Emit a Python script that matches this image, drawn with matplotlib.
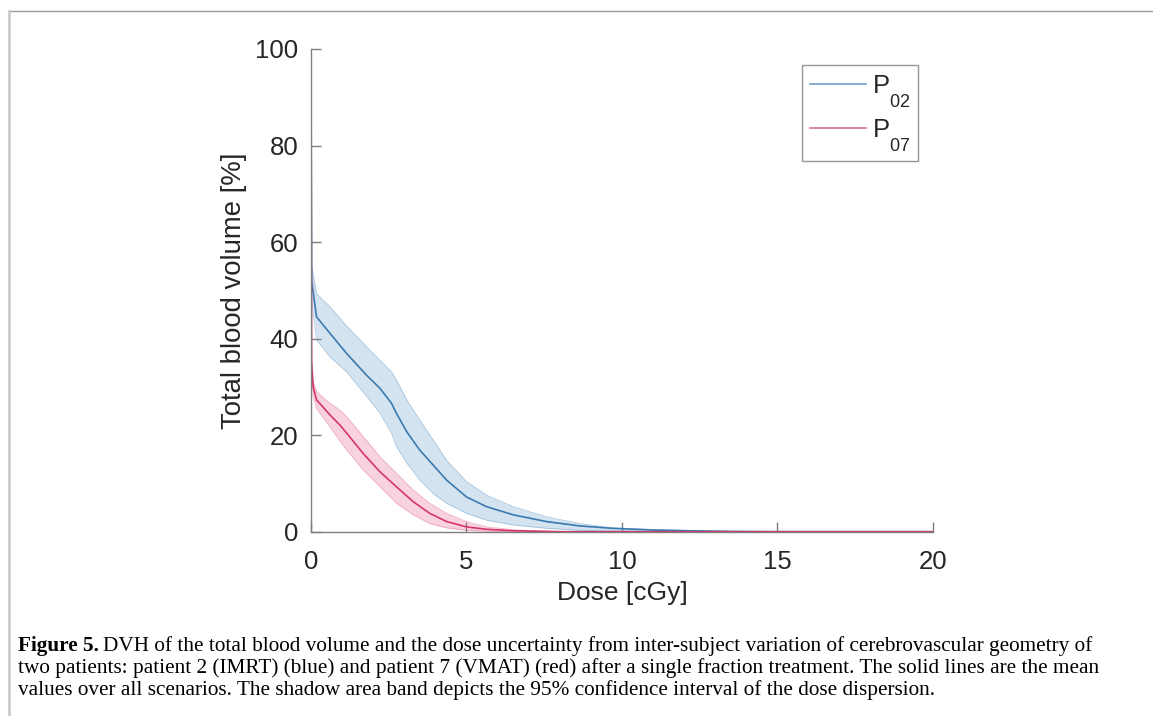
import matplotlib

matplotlib.use("Agg")
import matplotlib.pyplot as plt
from matplotlib.lines import Line2D
import matplotlib._mathtext as mt

# lower subscripts like the MATLAB legend does
mt.FontConstantsBase.sub1 = 1.0
mt.FontConstantsBase.sub2 = 1.0

# DVH, patient 2 (IMRT) -- mean line and 95% band
p02_dose = [0, 0.02, 0.18, 0.61, 1.15, 1.79, 2.22, 2.59, 2.75, 3.08, 3.5, 3.93,
            4.36, 5.0, 5.64, 6.5, 7.57, 8.64, 9.7, 11, 12, 13.5, 15, 20]
p02_mean = [100, 52, 44.5, 41.1, 36.9, 32.4, 29.7, 26.6, 24.5, 20.7, 16.9, 13.8,
            10.7, 7.2, 5.2, 3.5, 2.1, 1.2, 0.7, 0.35, 0.2, 0.05, 0, 0]
p02_upper = [100, 55, 49.3, 46.6, 42.6, 38.3, 35.5, 33.1, 31.4, 27.3, 23.1, 19,
             14.8, 10.4, 7.6, 5.2, 3.1, 1.7, 0.8, 0.45, 0.3, 0.1, 0, 0]
p02_lower = [100, 48, 39.7, 36.2, 33.1, 28, 24.5, 20.4, 17.6, 14.2, 10.7, 7.9,
             5.9, 3.8, 2.4, 1.4, 0.7, 0.3, 0.15, 0.05, 0, 0, 0, 0]

# DVH, patient 7 (VMAT)
p07_dose = [0, 0.02, 0.07, 0.18, 0.61, 0.93, 1.15, 1.68, 2.22, 2.75, 3.29, 3.82,
            4.36, 5.0, 5.64, 6.5, 8, 20]
p07_mean = [100, 35, 30, 27.3, 24.2, 22.1, 20.4, 16.2, 12.4, 9.3, 6.2, 3.8,
            2.1, 1.0, 0.5, 0.2, 0, 0]
p07_upper = [100, 36, 31, 29, 26.6, 25.2, 23.8, 19.7, 15.5, 12.1, 8.6, 5.9,
             3.8, 2.1, 1.0, 0.4, 0.05, 0]
p07_lower = [100, 33, 28, 25.5, 21.7, 18.8, 16.9, 12.8, 9.3, 5.9, 3.5, 1.7,
             0.8, 0.3, 0.1, 0, 0, 0]

x_ticks = [0, 5, 10, 15, 20]
y_ticks = [0, 20, 40, 60, 80, 100]
legend_labels = [r"P$_{\mathregular{02}}$", r"P$_{\mathregular{07}}$"]

BLUE = "#3a7ab0"
RED = "#d6356a"
SPINE = "#7f7f7f"
TXT = "#262626"

plt.rcParams["font.family"] = ["Liberation Sans", "DejaVu Sans"]
plt.rcParams["mathtext.fontset"] = "custom"
plt.rcParams["mathtext.rm"] = "Liberation Sans"
plt.rcParams["mathtext.it"] = "Liberation Sans"

fig = plt.figure(figsize=(11.53, 7.16), dpi=100)
ax = fig.add_axes([0.2697, 0.2574, 0.5395, 0.6742])

ax.fill_between(p02_dose, p02_lower, p02_upper, color="#a9c8e2", alpha=0.5, lw=0)
ax.plot(p02_dose, p02_upper, color=BLUE, lw=0.6, alpha=0.35)
ax.plot(p02_dose, p02_lower, color=BLUE, lw=0.6, alpha=0.35)
ax.fill_between(p07_dose, p07_lower, p07_upper, color="#f3a9c0", alpha=0.5, lw=0)
ax.plot(p07_dose, p07_upper, color=RED, lw=0.6, alpha=0.35)
ax.plot(p07_dose, p07_lower, color=RED, lw=0.6, alpha=0.35)
ax.plot(p02_dose, p02_mean, color=BLUE, lw=1.2)
ax.plot(p07_dose, p07_mean, color=RED, lw=1.2)

ax.set_xlim(0, 20)
ax.set_ylim(0, 100)
ax.set_xticks(x_ticks)
ax.set_yticks(y_ticks)
for s in ["top", "right"]:
    ax.spines[s].set_visible(False)
for s in ["left", "bottom"]:
    ax.spines[s].set_color(SPINE)
    ax.spines[s].set_linewidth(1.0)
ax.tick_params(direction="in", length=7, width=1.0, color=SPINE,
               labelsize=18.5, labelcolor=TXT)
ax.tick_params(axis="x", pad=13)
ax.tick_params(axis="y", pad=9)
ax.set_xlabel("Dose [cGy]", fontsize=19, color=TXT, labelpad=5)
ax.set_ylabel("Total blood volume [%]", fontsize=19.8, color=TXT, labelpad=6)

handles = [Line2D([], [], color="#6fa0c8", lw=1.2),
           Line2D([], [], color="#d0709a", lw=1.2)]
leg = ax.legend(handles, legend_labels, loc="upper right",
                bbox_to_anchor=(0.976, 0.966), fontsize=18.5, handlelength=2.2,
                handletextpad=0.22, borderpad=0.3, labelspacing=0.3,
                borderaxespad=0, fancybox=False, frameon=True)
leg.get_frame().set_edgecolor(SPINE)
leg.get_frame().set_linewidth(1.0)
for t in leg.get_texts():
    t.set_color(TXT)

# page frame
fig.add_artist(Line2D([0.0075, 1.0], [1 - 11 / 716, 1 - 11 / 716],
                      color="#999999", lw=1.0, transform=fig.transFigure))
fig.add_artist(Line2D([0.0075, 0.0075], [0, 1 - 11 / 716],
                      color="#cccccc", lw=2.0, transform=fig.transFigure))

# caption
cap_lines = [
    "DVH of the total blood volume and the dose uncertainty from inter-subject variation of cerebrovascular geometry of",
    "two patients: patient 2 (IMRT) (blue) and patient 7 (VMAT) (red) after a single fraction treatment. The solid lines are the mean",
    "values over all scenarios. The shadow area band depicts the 95% confidence interval of the dose dispersion.",
]
serif = ["Liberation Serif", "DejaVu Serif"]
fs = 15.3
x0 = 18 / 1153
t = fig.text(x0, 1 - 646 / 716, "Figure 5.", family=serif, fontsize=fs,
             weight="bold", va="center", color="black")
fig.canvas.draw()
bb = t.get_window_extent()
fig.text(bb.x1 / 1153 + 0.004, 1 - 646 / 716, cap_lines[0], family=serif,
         fontsize=fs, va="center", color="black")
fig.text(x0, 1 - 668 / 716, cap_lines[1], family=serif, fontsize=fs,
         va="center", color="black")
fig.text(x0, 1 - 690 / 716, cap_lines[2], family=serif, fontsize=fs,
         va="center", color="black")

fig.savefig("out.png", dpi=100)
